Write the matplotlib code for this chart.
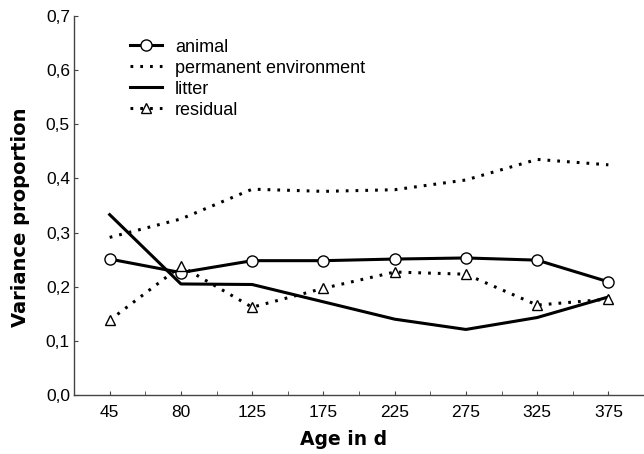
import numpy as np
import matplotlib.pyplot as plt

plt.rcParams['font.family'] = ['Liberation Sans', 'DejaVu Sans']

# data
ages = ['45', '80', '125', '175', '225', '275', '325', '375']
animal = [0.251, 0.226, 0.248, 0.248, 0.251, 0.253, 0.249, 0.209]
perm_env = [0.291, 0.325, 0.380, 0.376, 0.379, 0.397, 0.435, 0.425]
litter = [0.333, 0.205, 0.204, 0.172, 0.140, 0.121, 0.143, 0.181]
residual = [0.138, 0.238, 0.162, 0.197, 0.227, 0.223, 0.166, 0.177]
y_ticks = [0.0, 0.1, 0.2, 0.3, 0.4, 0.5, 0.6, 0.7]

x = np.arange(len(ages))
dots = (0, (0.9, 2.3))

fig = plt.figure(figsize=(6.44, 4.54), dpi=100)
ax = fig.add_axes([0.115, 0.13, 0.885, 0.835])

ax.plot(x, animal, color='black', lw=2.2, marker='o', ms=8,
        mfc='white', mec='black', mew=1.0, label='animal', zorder=4)
ax.plot(x, perm_env, color='black', lw=2.2, linestyle=dots,
        label='permanent environment', zorder=3)
ax.plot(x, litter, color='black', lw=2.2, label='litter', zorder=3)
ax.plot(x, residual, color='black', lw=2.2, linestyle=dots, marker='^',
        ms=6.5, mfc='white', mec='black', mew=1.0, label='residual', zorder=4)

ax.set_xlim(-0.5, 7.46)
ax.set_ylim(0, 0.7)
ax.set_xticks(x)
ax.set_xticklabels(ages)
ax.set_xticks(x + 0.5, minor=True)
ax.set_yticks(y_ticks)
ax.set_yticklabels([f'{v:.1f}'.replace('.', ',') for v in y_ticks])

for side in ['top', 'right']:
    ax.spines[side].set_visible(False)
for side in ['left', 'bottom']:
    ax.spines[side].set_color('#444444')
    ax.spines[side].set_linewidth(1.0)

ax.tick_params(axis='both', which='both', direction='in', length=3,
               color='#444444', labelsize=12.5)
ax.tick_params(axis='x', pad=7)
ax.tick_params(axis='y', pad=3)

ax.set_xlabel('Age in d', fontsize=13.5, fontweight='bold',
              family=['DejaVu Sans'])
ax.set_ylabel('Variance proportion', fontsize=14, fontweight='bold',
              family=['DejaVu Sans'])
ax.xaxis.set_label_coords(0.472, -0.092)
ax.yaxis.set_label_coords(-0.078, 0.468)

ax.legend(loc='upper left', bbox_to_anchor=(0.098, 0.94), frameon=False,
          fontsize=13, handlelength=1.8, labelspacing=0.22, handletextpad=0.7,
          borderpad=0, borderaxespad=0)

fig.savefig('out.png', dpi=100)
